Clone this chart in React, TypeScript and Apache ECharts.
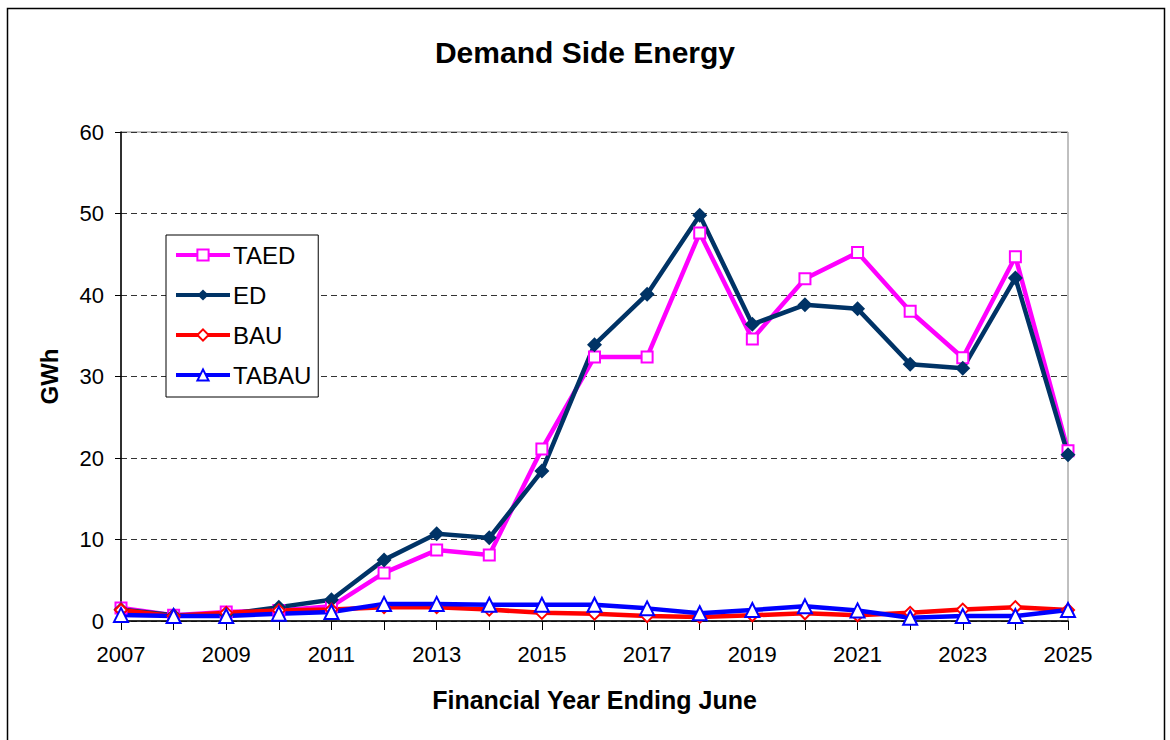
import React, { useEffect, useRef } from "react";
import * as echarts from "echarts";

const years = [
  "2007", "2008", "2009", "2010", "2011", "2012", "2013", "2014", "2015", "2016",
  "2017", "2018", "2019", "2020", "2021", "2022", "2023", "2024", "2025",
];
const taed = [1.6, 0.7, 1.1, 1.3, 1.8, 5.9, 8.7, 8.1, 21.1, 32.4, 32.4, 47.6, 34.6, 42.0, 45.2, 38.0, 32.3, 44.7, 20.9];
const ed = [1.4, 0.7, 0.8, 1.7, 2.6, 7.5, 10.7, 10.2, 18.4, 33.9, 40.1, 49.8, 36.4, 38.8, 38.3, 31.5, 31.0, 42.1, 20.4];
const bau = [1.35, 0.6, 1.0, 1.3, 1.4, 1.7, 1.7, 1.4, 1.0, 0.9, 0.6, 0.5, 0.7, 0.95, 0.7, 1.0, 1.4, 1.7, 1.35];
const tabau = [0.75, 0.6, 0.6, 0.9, 1.1, 2.1, 2.1, 2.0, 2.0, 2.0, 1.55, 0.95, 1.35, 1.8, 1.3, 0.4, 0.6, 0.6, 1.35];

const FONT = "Liberation Sans, Arial, sans-serif";

export default function App() {
  const ref = useRef<HTMLDivElement>(null);
  useEffect(() => {
    if (!ref.current) return;
    const chart = echarts.init(ref.current, undefined, { renderer: "svg" });
    const mkSeries = (name: string, data: number[], color: string, symbol: string, size: number) => ({
      name,
      type: "line",
      data,
      symbol,
      symbolSize: size,
      showSymbol: true,
      lineStyle: { color, width: 4.5 },
      itemStyle: { color, borderWidth: 2 },
      emphasis: { disabled: true },
    });
    chart.setOption({
      animation: false,
      backgroundColor: "#fff",
      textStyle: { fontFamily: FONT },
      title: {
        text: "Demand Side Energy",
        left: "center",
        top: 32,
        textStyle: { fontFamily: FONT, fontSize: 30, fontWeight: "bold", color: "#000" },
      },
      graphic: [
        {
          type: "rect",
          shape: { x: 7.5, y: 8.5, width: 1157, height: 800 },
          style: { fill: "none", stroke: "#000", lineWidth: 1.5 },
          silent: true,
        },
      ],
      legend: {
        orient: "vertical",
        left: 166,
        top: 235,
        padding: [8, 7, 10, 8],
        itemGap: 16,
        itemWidth: 54,
        itemHeight: 14,
        backgroundColor: "#fff",
        borderColor: "#000",
        borderWidth: 1,
        lineStyle: { width: 4 },
        textStyle: { fontFamily: FONT, fontSize: 24, color: "#000", padding: [0, 0, 0, -2] },
        data: ["TAED", "ED", "BAU", "TABAU"],
      },
      grid: {
        left: 121,
        top: 132,
        right: 102,
        bottom: 119,
        show: true,
        borderColor: "#808080",
        borderWidth: 1,
        backgroundColor: "transparent",
      },
      xAxis: {
        type: "category",
        data: years,
        boundaryGap: false,
        name: "Financial Year Ending June",
        nameLocation: "middle",
        nameGap: 66,
        nameTextStyle: { fontFamily: FONT, fontSize: 25, fontWeight: "bold", color: "#000" },
        axisLine: { lineStyle: { color: "#000", width: 1.5 } },
        axisTick: { show: true, interval: 0, length: 9, lineStyle: { color: "#000" } },
        axisLabel: { interval: 1, margin: 22, fontFamily: FONT, fontSize: 22, color: "#000" },
        splitLine: { show: false },
      },
      yAxis: {
        type: "value",
        min: 0,
        max: 60,
        interval: 10,
        name: "GWh",
        nameLocation: "middle",
        nameGap: 60,
        nameTextStyle: { fontFamily: FONT, fontSize: 24, fontWeight: "bold", color: "#000" },
        axisLine: { show: true, lineStyle: { color: "#000", width: 1.5 } },
        axisTick: { show: true, length: 6, lineStyle: { color: "#000" } },
        axisLabel: { margin: 17, fontFamily: FONT, fontSize: 22, color: "#000" },
        splitLine: { show: true, lineStyle: { color: "#333", type: [6, 4], width: 1 } },
      },
      series: [
        mkSeries("TAED", taed, "#FF00FF", "emptyRect", 11),
        mkSeries("ED", ed, "#003366", "diamond", 15),
        mkSeries("BAU", bau, "#FF0000", "emptyDiamond", 12),
        mkSeries("TABAU", tabau, "#0000FF", "emptyTriangle", 14),
      ],
    });
    return () => chart.dispose();
  }, []);
  return (
    <div
      ref={ref}
      style={{ position: "absolute", left: 0, top: 0, width: 1170, height: 740 }}
    />
  );
}
